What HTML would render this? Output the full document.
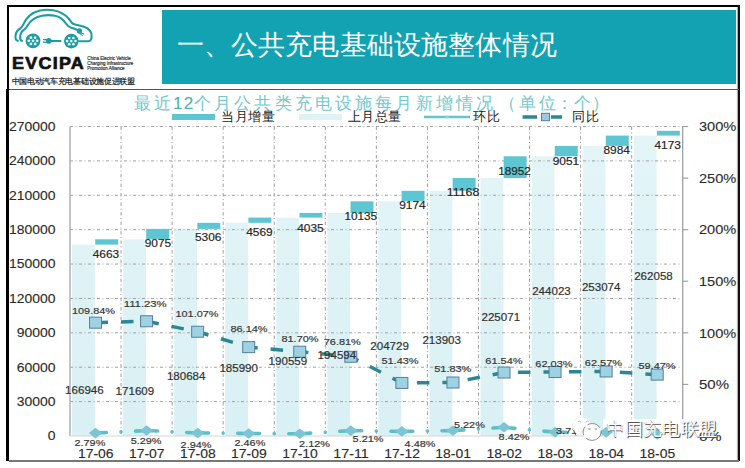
<!DOCTYPE html>
<html><head><meta charset="utf-8"><style>
html,body{margin:0;padding:0;width:745px;height:468px;overflow:hidden;background:#fff;}
body{position:relative;font-family:"Liberation Sans",sans-serif;}
svg text{font-family:"Liberation Sans",sans-serif;}
.abs{position:absolute;}
.ct{top:91.9px;font-size:17px;line-height:24px;color:#74c7cd;white-space:nowrap;}
</style></head><body>
<div class="abs" style="left:7px;top:5px;width:733px;height:2px;background:#000"></div>
<div class="abs" style="left:7px;top:5px;width:2px;height:84px;background:#000"></div>
<div class="abs" style="left:5.5px;top:89px;width:3.5px;height:372px;background:#000"></div>
<div class="abs" style="left:738px;top:5px;width:2px;height:456px;background:#111;box-shadow:-1px 0 1px rgba(0,0,0,0.35)"></div>
<div class="abs" style="left:9px;top:88.5px;width:730px;height:1.5px;background:#555"></div>
<div class="abs" style="left:9px;top:460px;width:730px;height:2px;background:#777"></div>
<div class="abs" style="left:162px;top:10px;width:574px;height:74px;background:#12a2b2"></div>
<div class="abs" style="left:176.5px;top:26.5px;font-size:27px;line-height:36px;color:#fff;white-space:nowrap;letter-spacing:0.18px">一、公共充电基础设施整体情况</div>
<svg width="745" height="468" viewBox="0 0 745 468" style="position:absolute;left:0;top:0">
<defs><linearGradient id="lg" x1="0" y1="0" x2="0" y2="1" gradientUnits="userSpaceOnUse" gradientTransform="scale(1,1)"></linearGradient>
<linearGradient id="bg" x1="0" y1="126.5" x2="0" y2="436.0" gradientUnits="userSpaceOnUse"><stop offset="0" stop-color="#e4f5f7"/><stop offset="1" stop-color="#d9f0f4"/></linearGradient></defs>
<rect x="72.00" y="244.63" width="22.9" height="191.37" fill="url(#bg)"/>
<rect x="123.06" y="239.29" width="22.9" height="196.71" fill="url(#bg)"/>
<rect x="174.12" y="228.88" width="22.9" height="207.12" fill="url(#bg)"/>
<rect x="225.18" y="222.80" width="22.9" height="213.20" fill="url(#bg)"/>
<rect x="276.24" y="217.56" width="22.9" height="218.44" fill="url(#bg)"/>
<rect x="327.30" y="212.94" width="22.9" height="223.06" fill="url(#bg)"/>
<rect x="378.36" y="201.32" width="22.9" height="234.68" fill="url(#bg)"/>
<rect x="429.42" y="190.80" width="22.9" height="245.20" fill="url(#bg)"/>
<rect x="480.48" y="178.00" width="22.9" height="258.00" fill="url(#bg)"/>
<rect x="531.54" y="156.28" width="22.9" height="279.72" fill="url(#bg)"/>
<rect x="582.60" y="145.90" width="22.9" height="290.10" fill="url(#bg)"/>
<rect x="633.66" y="135.60" width="22.9" height="300.40" fill="url(#bg)"/>
<line x1="70.0" y1="401.61" x2="682.7" y2="401.61" stroke="#a0a0a0" stroke-width="1" stroke-dasharray="3 2.5 1 2.5"/>
<line x1="70.0" y1="367.22" x2="682.7" y2="367.22" stroke="#a0a0a0" stroke-width="1" stroke-dasharray="3 2.5 1 2.5"/>
<line x1="70.0" y1="332.83" x2="682.7" y2="332.83" stroke="#a0a0a0" stroke-width="1" stroke-dasharray="3 2.5 1 2.5"/>
<line x1="70.0" y1="298.44" x2="682.7" y2="298.44" stroke="#a0a0a0" stroke-width="1" stroke-dasharray="3 2.5 1 2.5"/>
<line x1="70.0" y1="264.06" x2="682.7" y2="264.06" stroke="#a0a0a0" stroke-width="1" stroke-dasharray="3 2.5 1 2.5"/>
<line x1="70.0" y1="229.67" x2="682.7" y2="229.67" stroke="#a0a0a0" stroke-width="1" stroke-dasharray="3 2.5 1 2.5"/>
<line x1="70.0" y1="195.28" x2="682.7" y2="195.28" stroke="#a0a0a0" stroke-width="1" stroke-dasharray="3 2.5 1 2.5"/>
<line x1="70.0" y1="160.89" x2="682.7" y2="160.89" stroke="#a0a0a0" stroke-width="1" stroke-dasharray="3 2.5 1 2.5"/>
<line x1="70.0" y1="126.50" x2="682.7" y2="126.50" stroke="#a0a0a0" stroke-width="1" stroke-dasharray="3 2.5 1 2.5"/>
<line x1="121.06" y1="126.5" x2="121.06" y2="436.0" stroke="#a0a0a0" stroke-width="1" stroke-dasharray="3.5 2.5 1 2.5"/>
<line x1="172.12" y1="126.5" x2="172.12" y2="436.0" stroke="#a0a0a0" stroke-width="1" stroke-dasharray="3.5 2.5 1 2.5"/>
<line x1="223.18" y1="126.5" x2="223.18" y2="436.0" stroke="#a0a0a0" stroke-width="1" stroke-dasharray="3.5 2.5 1 2.5"/>
<line x1="274.24" y1="126.5" x2="274.24" y2="436.0" stroke="#a0a0a0" stroke-width="1" stroke-dasharray="3.5 2.5 1 2.5"/>
<line x1="325.30" y1="126.5" x2="325.30" y2="436.0" stroke="#a0a0a0" stroke-width="1" stroke-dasharray="3.5 2.5 1 2.5"/>
<line x1="376.36" y1="126.5" x2="376.36" y2="436.0" stroke="#a0a0a0" stroke-width="1" stroke-dasharray="3.5 2.5 1 2.5"/>
<line x1="427.42" y1="126.5" x2="427.42" y2="436.0" stroke="#a0a0a0" stroke-width="1" stroke-dasharray="3.5 2.5 1 2.5"/>
<line x1="478.48" y1="126.5" x2="478.48" y2="436.0" stroke="#a0a0a0" stroke-width="1" stroke-dasharray="3.5 2.5 1 2.5"/>
<line x1="529.54" y1="126.5" x2="529.54" y2="436.0" stroke="#a0a0a0" stroke-width="1" stroke-dasharray="3.5 2.5 1 2.5"/>
<line x1="580.60" y1="126.5" x2="580.60" y2="436.0" stroke="#a0a0a0" stroke-width="1" stroke-dasharray="3.5 2.5 1 2.5"/>
<line x1="631.66" y1="126.5" x2="631.66" y2="436.0" stroke="#a0a0a0" stroke-width="1" stroke-dasharray="3.5 2.5 1 2.5"/>
<line x1="70.0" y1="126.5" x2="70.0" y2="436.0" stroke="#b0b0b0" stroke-width="1.5"/>
<line x1="70.0" y1="436.0" x2="682.7" y2="436.0" stroke="#d4d4d4" stroke-width="1"/>
<line x1="682.7" y1="126.5" x2="682.7" y2="436.0" stroke="#a0a0a0" stroke-width="1.3"/>
<line x1="682.7" y1="436.00" x2="688.20" y2="436.00" stroke="#a0a0a0" stroke-width="1.2"/>
<line x1="682.7" y1="384.42" x2="688.20" y2="384.42" stroke="#a0a0a0" stroke-width="1.2"/>
<line x1="682.7" y1="332.83" x2="688.20" y2="332.83" stroke="#a0a0a0" stroke-width="1.2"/>
<line x1="682.7" y1="281.25" x2="688.20" y2="281.25" stroke="#a0a0a0" stroke-width="1.2"/>
<line x1="682.7" y1="229.67" x2="688.20" y2="229.67" stroke="#a0a0a0" stroke-width="1.2"/>
<line x1="682.7" y1="178.08" x2="688.20" y2="178.08" stroke="#a0a0a0" stroke-width="1.2"/>
<line x1="682.7" y1="126.50" x2="688.20" y2="126.50" stroke="#a0a0a0" stroke-width="1.2"/>
<rect x="95.20" y="239.29" width="23" height="5.35" fill="#5ec6d2"/>
<rect x="146.26" y="228.88" width="23" height="10.40" fill="#5ec6d2"/>
<rect x="197.32" y="222.80" width="23" height="6.08" fill="#5ec6d2"/>
<rect x="248.38" y="217.56" width="23" height="5.24" fill="#5ec6d2"/>
<rect x="299.44" y="212.94" width="23" height="4.63" fill="#5ec6d2"/>
<rect x="350.50" y="201.32" width="23" height="11.62" fill="#5ec6d2"/>
<rect x="401.56" y="190.80" width="23" height="10.52" fill="#5ec6d2"/>
<rect x="452.62" y="178.00" width="23" height="12.80" fill="#5ec6d2"/>
<rect x="503.68" y="156.28" width="23" height="21.72" fill="#5ec6d2"/>
<rect x="554.74" y="145.90" width="23" height="10.38" fill="#5ec6d2"/>
<rect x="605.80" y="135.60" width="23" height="10.30" fill="#5ec6d2"/>
<rect x="656.86" y="130.82" width="23" height="4.78" fill="#5ec6d2"/>
<line x1="95.53" y1="433.12" x2="146.59" y2="430.54" stroke="#5cc0c6" stroke-width="3.6" stroke-linecap="round" stroke-dasharray="10.9 14.6 0.01 14.6 11"/>
<line x1="146.59" y1="430.54" x2="197.65" y2="432.97" stroke="#5cc0c6" stroke-width="3.6" stroke-linecap="round" stroke-dasharray="10.9 14.6 0.01 14.6 11"/>
<line x1="197.65" y1="432.97" x2="248.71" y2="433.46" stroke="#5cc0c6" stroke-width="3.6" stroke-linecap="round" stroke-dasharray="10.9 14.6 0.01 14.6 11"/>
<line x1="248.71" y1="433.46" x2="299.77" y2="433.81" stroke="#5cc0c6" stroke-width="3.6" stroke-linecap="round" stroke-dasharray="10.9 14.6 0.01 14.6 11"/>
<line x1="299.77" y1="433.81" x2="350.83" y2="430.63" stroke="#5cc0c6" stroke-width="3.6" stroke-linecap="round" stroke-dasharray="10.9 14.6 0.01 14.6 11"/>
<line x1="350.83" y1="430.63" x2="401.89" y2="431.38" stroke="#5cc0c6" stroke-width="3.6" stroke-linecap="round" stroke-dasharray="10.9 14.6 0.01 14.6 11"/>
<line x1="401.89" y1="431.38" x2="452.95" y2="430.61" stroke="#5cc0c6" stroke-width="3.6" stroke-linecap="round" stroke-dasharray="10.9 14.6 0.01 14.6 11"/>
<line x1="452.95" y1="430.61" x2="504.01" y2="427.31" stroke="#5cc0c6" stroke-width="3.6" stroke-linecap="round" stroke-dasharray="10.9 14.6 0.01 14.6 11"/>
<line x1="504.01" y1="427.31" x2="555.07" y2="432.17" stroke="#5cc0c6" stroke-width="3.6" stroke-linecap="round" stroke-dasharray="10.9 14.6 0.01 14.6 11"/>
<line x1="555.07" y1="432.17" x2="606.13" y2="432.34" stroke="#5cc0c6" stroke-width="3.6" stroke-linecap="round" stroke-dasharray="10.9 14.6 0.01 14.6 11"/>
<line x1="606.13" y1="432.34" x2="657.19" y2="434.36" stroke="#5cc0c6" stroke-width="3.6" stroke-linecap="round" stroke-dasharray="10.9 14.6 0.01 14.6 11"/>
<rect x="603" y="419" width="118" height="22" fill="#fff" fill-opacity="0.92"/>
<path d="M88.93 433.12L95.53 427.82L102.13 433.12L95.53 438.42Z" fill="#7cc5d4"/>
<path d="M139.99 430.54L146.59 425.24L153.19 430.54L146.59 435.84Z" fill="#7cc5d4"/>
<path d="M191.05 432.97L197.65 427.67L204.25 432.97L197.65 438.27Z" fill="#7cc5d4"/>
<path d="M242.11 433.46L248.71 428.16L255.31 433.46L248.71 438.76Z" fill="#7cc5d4"/>
<path d="M293.17 433.81L299.77 428.51L306.37 433.81L299.77 439.11Z" fill="#7cc5d4"/>
<path d="M344.23 430.63L350.83 425.33L357.43 430.63L350.83 435.93Z" fill="#7cc5d4"/>
<path d="M395.29 431.38L401.89 426.08L408.49 431.38L401.89 436.68Z" fill="#7cc5d4"/>
<path d="M446.35 430.61L452.95 425.31L459.55 430.61L452.95 435.91Z" fill="#7cc5d4"/>
<path d="M497.41 427.31L504.01 422.01L510.61 427.31L504.01 432.61Z" fill="#7cc5d4"/>
<path d="M548.47 432.17L555.07 426.87L561.67 432.17L555.07 437.47Z" fill="#7cc5d4"/>
<path d="M599.53 432.34L606.13 427.04L612.73 432.34L606.13 437.64Z" fill="#7cc5d4"/>
<path d="M650.59 434.36L657.19 429.06L663.79 434.36L657.19 439.66Z" fill="#7cc5d4"/>
<polyline points="95.53,322.68 146.59,321.25 197.65,331.73 248.71,347.13 299.77,351.71 350.83,356.76 401.89,382.94 452.95,382.53 504.01,372.51 555.07,372.01 606.13,371.45 657.19,374.65" fill="none" stroke="#2a8796" stroke-width="3.5" stroke-dasharray="12.5 13"/>
<rect x="89.53" y="317.18" width="12" height="11" fill="#9dd2e2" stroke="#5a7d9c" stroke-width="1"/>
<rect x="140.59" y="315.75" width="12" height="11" fill="#9dd2e2" stroke="#5a7d9c" stroke-width="1"/>
<rect x="191.65" y="326.23" width="12" height="11" fill="#9dd2e2" stroke="#5a7d9c" stroke-width="1"/>
<rect x="242.71" y="341.63" width="12" height="11" fill="#9dd2e2" stroke="#5a7d9c" stroke-width="1"/>
<rect x="293.77" y="346.21" width="12" height="11" fill="#9dd2e2" stroke="#5a7d9c" stroke-width="1"/>
<rect x="344.83" y="351.26" width="12" height="11" fill="#9dd2e2" stroke="#5a7d9c" stroke-width="1"/>
<rect x="395.89" y="377.44" width="12" height="11" fill="#9dd2e2" stroke="#5a7d9c" stroke-width="1"/>
<rect x="446.95" y="377.03" width="12" height="11" fill="#9dd2e2" stroke="#5a7d9c" stroke-width="1"/>
<rect x="498.01" y="367.01" width="12" height="11" fill="#9dd2e2" stroke="#5a7d9c" stroke-width="1"/>
<rect x="549.07" y="366.51" width="12" height="11" fill="#9dd2e2" stroke="#5a7d9c" stroke-width="1"/>
<rect x="600.13" y="365.95" width="12" height="11" fill="#9dd2e2" stroke="#5a7d9c" stroke-width="1"/>
<rect x="651.19" y="369.15" width="12" height="11" fill="#9dd2e2" stroke="#5a7d9c" stroke-width="1"/>
<text x="84.40" y="389.80" font-size="11" fill="#303030" text-anchor="middle" dominant-baseline="central" textLength="38.60" lengthAdjust="spacingAndGlyphs" stroke="#333" stroke-width="0.18">166946</text>
<text x="106.00" y="254.10" font-size="11" fill="#222" text-anchor="middle" dominant-baseline="central" textLength="26.50" lengthAdjust="spacingAndGlyphs" stroke="#333" stroke-width="0.18">4663</text>
<text x="93.50" y="310.50" font-size="9.5" fill="#383838" text-anchor="middle" dominant-baseline="central" textLength="43.00" lengthAdjust="spacingAndGlyphs" stroke="#333" stroke-width="0.18">109.84%</text>
<text x="89.90" y="442.80" font-size="9" fill="#383838" text-anchor="middle" dominant-baseline="central" textLength="30.80" lengthAdjust="spacingAndGlyphs" stroke="#333" stroke-width="0.18">2.79%</text>
<text x="95.73" y="453.00" font-size="13.5" fill="#2a2a2a" text-anchor="middle" dominant-baseline="central" textLength="35.60" lengthAdjust="spacingAndGlyphs" stroke="#2a2a2a" stroke-width="0.12">17-06</text>
<text x="134.90" y="391.40" font-size="11" fill="#303030" text-anchor="middle" dominant-baseline="central" textLength="38.60" lengthAdjust="spacingAndGlyphs" stroke="#333" stroke-width="0.18">171609</text>
<text x="157.90" y="243.40" font-size="11" fill="#222" text-anchor="middle" dominant-baseline="central" textLength="26.50" lengthAdjust="spacingAndGlyphs" stroke="#333" stroke-width="0.18">9075</text>
<text x="145.20" y="303.30" font-size="9.5" fill="#383838" text-anchor="middle" dominant-baseline="central" textLength="43.00" lengthAdjust="spacingAndGlyphs" stroke="#333" stroke-width="0.18">111.23%</text>
<text x="146.10" y="441.00" font-size="9" fill="#383838" text-anchor="middle" dominant-baseline="central" textLength="30.80" lengthAdjust="spacingAndGlyphs" stroke="#333" stroke-width="0.18">5.29%</text>
<text x="146.79" y="453.00" font-size="13.5" fill="#2a2a2a" text-anchor="middle" dominant-baseline="central" textLength="35.60" lengthAdjust="spacingAndGlyphs" stroke="#2a2a2a" stroke-width="0.12">17-07</text>
<text x="186.20" y="375.70" font-size="11" fill="#303030" text-anchor="middle" dominant-baseline="central" textLength="38.60" lengthAdjust="spacingAndGlyphs" stroke="#333" stroke-width="0.18">180684</text>
<text x="208.20" y="237.20" font-size="11" fill="#222" text-anchor="middle" dominant-baseline="central" textLength="26.50" lengthAdjust="spacingAndGlyphs" stroke="#333" stroke-width="0.18">5306</text>
<text x="197.00" y="313.70" font-size="9.5" fill="#383838" text-anchor="middle" dominant-baseline="central" textLength="43.00" lengthAdjust="spacingAndGlyphs" stroke="#333" stroke-width="0.18">101.07%</text>
<text x="196.00" y="445.40" font-size="9" fill="#383838" text-anchor="middle" dominant-baseline="central" textLength="30.80" lengthAdjust="spacingAndGlyphs" stroke="#333" stroke-width="0.18">2.94%</text>
<text x="197.85" y="453.00" font-size="13.5" fill="#2a2a2a" text-anchor="middle" dominant-baseline="central" textLength="35.60" lengthAdjust="spacingAndGlyphs" stroke="#2a2a2a" stroke-width="0.12">17-08</text>
<text x="238.70" y="367.80" font-size="11" fill="#303030" text-anchor="middle" dominant-baseline="central" textLength="38.60" lengthAdjust="spacingAndGlyphs" stroke="#333" stroke-width="0.18">185990</text>
<text x="259.40" y="232.00" font-size="11" fill="#222" text-anchor="middle" dominant-baseline="central" textLength="26.50" lengthAdjust="spacingAndGlyphs" stroke="#333" stroke-width="0.18">4569</text>
<text x="249.00" y="328.60" font-size="9.5" fill="#383838" text-anchor="middle" dominant-baseline="central" textLength="37.20" lengthAdjust="spacingAndGlyphs" stroke="#333" stroke-width="0.18">86.14%</text>
<text x="249.90" y="442.80" font-size="9" fill="#383838" text-anchor="middle" dominant-baseline="central" textLength="30.80" lengthAdjust="spacingAndGlyphs" stroke="#333" stroke-width="0.18">2.46%</text>
<text x="248.91" y="453.00" font-size="13.5" fill="#2a2a2a" text-anchor="middle" dominant-baseline="central" textLength="35.60" lengthAdjust="spacingAndGlyphs" stroke="#2a2a2a" stroke-width="0.12">17-09</text>
<text x="287.90" y="360.80" font-size="11" fill="#303030" text-anchor="middle" dominant-baseline="central" textLength="38.60" lengthAdjust="spacingAndGlyphs" stroke="#333" stroke-width="0.18">190559</text>
<text x="310.50" y="227.60" font-size="11" fill="#222" text-anchor="middle" dominant-baseline="central" textLength="26.50" lengthAdjust="spacingAndGlyphs" stroke="#333" stroke-width="0.18">4035</text>
<text x="300.00" y="338.30" font-size="9.5" fill="#383838" text-anchor="middle" dominant-baseline="central" textLength="37.20" lengthAdjust="spacingAndGlyphs" stroke="#333" stroke-width="0.18">81.70%</text>
<text x="314.50" y="443.50" font-size="9" fill="#383838" text-anchor="middle" dominant-baseline="central" textLength="30.80" lengthAdjust="spacingAndGlyphs" stroke="#333" stroke-width="0.18">2.12%</text>
<text x="299.97" y="453.00" font-size="13.5" fill="#2a2a2a" text-anchor="middle" dominant-baseline="central" textLength="35.60" lengthAdjust="spacingAndGlyphs" stroke="#2a2a2a" stroke-width="0.12">17-10</text>
<text x="336.90" y="354.70" font-size="11" fill="#303030" text-anchor="middle" dominant-baseline="central" textLength="38.60" lengthAdjust="spacingAndGlyphs" stroke="#333" stroke-width="0.18">194594</text>
<text x="360.80" y="215.70" font-size="11" fill="#222" text-anchor="middle" dominant-baseline="central" textLength="32.60" lengthAdjust="spacingAndGlyphs" stroke="#333" stroke-width="0.18">10135</text>
<text x="342.30" y="341.20" font-size="9.5" fill="#383838" text-anchor="middle" dominant-baseline="central" textLength="37.20" lengthAdjust="spacingAndGlyphs" stroke="#333" stroke-width="0.18">76.81%</text>
<text x="368.00" y="438.60" font-size="9" fill="#383838" text-anchor="middle" dominant-baseline="central" textLength="30.80" lengthAdjust="spacingAndGlyphs" stroke="#333" stroke-width="0.18">5.21%</text>
<text x="351.03" y="453.00" font-size="13.5" fill="#2a2a2a" text-anchor="middle" dominant-baseline="central" textLength="35.60" lengthAdjust="spacingAndGlyphs" stroke="#2a2a2a" stroke-width="0.12">17-11</text>
<text x="389.60" y="346.00" font-size="11" fill="#303030" text-anchor="middle" dominant-baseline="central" textLength="38.60" lengthAdjust="spacingAndGlyphs" stroke="#333" stroke-width="0.18">204729</text>
<text x="412.50" y="205.20" font-size="11" fill="#222" text-anchor="middle" dominant-baseline="central" textLength="26.50" lengthAdjust="spacingAndGlyphs" stroke="#333" stroke-width="0.18">9174</text>
<text x="400.00" y="360.00" font-size="9.5" fill="#383838" text-anchor="middle" dominant-baseline="central" textLength="37.20" lengthAdjust="spacingAndGlyphs" stroke="#333" stroke-width="0.18">51.43%</text>
<text x="420.00" y="443.50" font-size="9" fill="#383838" text-anchor="middle" dominant-baseline="central" textLength="30.80" lengthAdjust="spacingAndGlyphs" stroke="#333" stroke-width="0.18">4.48%</text>
<text x="402.09" y="453.00" font-size="13.5" fill="#2a2a2a" text-anchor="middle" dominant-baseline="central" textLength="35.60" lengthAdjust="spacingAndGlyphs" stroke="#2a2a2a" stroke-width="0.12">17-12</text>
<text x="441.70" y="339.50" font-size="11" fill="#303030" text-anchor="middle" dominant-baseline="central" textLength="38.60" lengthAdjust="spacingAndGlyphs" stroke="#333" stroke-width="0.18">213903</text>
<text x="463.10" y="192.30" font-size="11" fill="#222" text-anchor="middle" dominant-baseline="central" textLength="32.60" lengthAdjust="spacingAndGlyphs" stroke="#333" stroke-width="0.18">11168</text>
<text x="452.80" y="368.50" font-size="9.5" fill="#383838" text-anchor="middle" dominant-baseline="central" textLength="37.20" lengthAdjust="spacingAndGlyphs" stroke="#333" stroke-width="0.18">51.83%</text>
<text x="469.40" y="424.60" font-size="9" fill="#383838" text-anchor="middle" dominant-baseline="central" textLength="30.80" lengthAdjust="spacingAndGlyphs" stroke="#333" stroke-width="0.18">5.22%</text>
<text x="453.15" y="453.00" font-size="13.5" fill="#2a2a2a" text-anchor="middle" dominant-baseline="central" textLength="35.60" lengthAdjust="spacingAndGlyphs" stroke="#2a2a2a" stroke-width="0.12">18-01</text>
<text x="500.80" y="316.60" font-size="11" fill="#303030" text-anchor="middle" dominant-baseline="central" textLength="38.60" lengthAdjust="spacingAndGlyphs" stroke="#333" stroke-width="0.18">225071</text>
<text x="514.50" y="170.60" font-size="11" fill="#222" text-anchor="middle" dominant-baseline="central" textLength="32.60" lengthAdjust="spacingAndGlyphs" stroke="#333" stroke-width="0.18">18952</text>
<text x="503.90" y="360.80" font-size="9.5" fill="#383838" text-anchor="middle" dominant-baseline="central" textLength="37.20" lengthAdjust="spacingAndGlyphs" stroke="#333" stroke-width="0.18">61.54%</text>
<text x="514.00" y="436.70" font-size="9" fill="#383838" text-anchor="middle" dominant-baseline="central" textLength="30.80" lengthAdjust="spacingAndGlyphs" stroke="#333" stroke-width="0.18">8.42%</text>
<text x="504.21" y="453.00" font-size="13.5" fill="#2a2a2a" text-anchor="middle" dominant-baseline="central" textLength="35.60" lengthAdjust="spacingAndGlyphs" stroke="#2a2a2a" stroke-width="0.12">18-02</text>
<text x="551.50" y="290.50" font-size="11" fill="#303030" text-anchor="middle" dominant-baseline="central" textLength="38.60" lengthAdjust="spacingAndGlyphs" stroke="#333" stroke-width="0.18">244023</text>
<text x="566.00" y="160.70" font-size="11" fill="#222" text-anchor="middle" dominant-baseline="central" textLength="26.50" lengthAdjust="spacingAndGlyphs" stroke="#333" stroke-width="0.18">9051</text>
<text x="553.90" y="363.70" font-size="9.5" fill="#383838" text-anchor="middle" dominant-baseline="central" textLength="37.20" lengthAdjust="spacingAndGlyphs" stroke="#333" stroke-width="0.18">62.03%</text>
<text x="571.50" y="431.40" font-size="9" fill="#383838" text-anchor="middle" dominant-baseline="central" textLength="30.80" lengthAdjust="spacingAndGlyphs" stroke="#333" stroke-width="0.18">3.71%</text>
<text x="555.27" y="453.00" font-size="13.5" fill="#2a2a2a" text-anchor="middle" dominant-baseline="central" textLength="35.60" lengthAdjust="spacingAndGlyphs" stroke="#2a2a2a" stroke-width="0.12">18-03</text>
<text x="601.20" y="286.90" font-size="11" fill="#303030" text-anchor="middle" dominant-baseline="central" textLength="38.60" lengthAdjust="spacingAndGlyphs" stroke="#333" stroke-width="0.18">253074</text>
<text x="616.70" y="150.20" font-size="11" fill="#222" text-anchor="middle" dominant-baseline="central" textLength="26.50" lengthAdjust="spacingAndGlyphs" stroke="#333" stroke-width="0.18">8984</text>
<text x="603.40" y="362.30" font-size="9.5" fill="#383838" text-anchor="middle" dominant-baseline="central" textLength="37.20" lengthAdjust="spacingAndGlyphs" stroke="#333" stroke-width="0.18">62.57%</text>
<text x="606.33" y="453.00" font-size="13.5" fill="#2a2a2a" text-anchor="middle" dominant-baseline="central" textLength="35.60" lengthAdjust="spacingAndGlyphs" stroke="#2a2a2a" stroke-width="0.12">18-04</text>
<text x="653.50" y="275.50" font-size="11" fill="#303030" text-anchor="middle" dominant-baseline="central" textLength="38.60" lengthAdjust="spacingAndGlyphs" stroke="#333" stroke-width="0.18">262058</text>
<text x="667.70" y="144.90" font-size="11" fill="#222" text-anchor="middle" dominant-baseline="central" textLength="26.50" lengthAdjust="spacingAndGlyphs" stroke="#333" stroke-width="0.18">4173</text>
<text x="657.00" y="365.60" font-size="9.5" fill="#383838" text-anchor="middle" dominant-baseline="central" textLength="37.20" lengthAdjust="spacingAndGlyphs" stroke="#333" stroke-width="0.18">59.47%</text>
<text x="657.39" y="453.00" font-size="13.5" fill="#2a2a2a" text-anchor="middle" dominant-baseline="central" textLength="35.60" lengthAdjust="spacingAndGlyphs" stroke="#2a2a2a" stroke-width="0.12">18-05</text>
<text x="55.50" y="436.30" font-size="12.5" fill="#2a2a2a" text-anchor="end" dominant-baseline="central" textLength="7.75" lengthAdjust="spacingAndGlyphs" stroke="#2a2a2a" stroke-width="0.1">0</text>
<text x="55.50" y="401.91" font-size="12.5" fill="#2a2a2a" text-anchor="end" dominant-baseline="central" textLength="38.75" lengthAdjust="spacingAndGlyphs" stroke="#2a2a2a" stroke-width="0.1">30000</text>
<text x="55.50" y="367.52" font-size="12.5" fill="#2a2a2a" text-anchor="end" dominant-baseline="central" textLength="38.75" lengthAdjust="spacingAndGlyphs" stroke="#2a2a2a" stroke-width="0.1">60000</text>
<text x="55.50" y="333.13" font-size="12.5" fill="#2a2a2a" text-anchor="end" dominant-baseline="central" textLength="38.75" lengthAdjust="spacingAndGlyphs" stroke="#2a2a2a" stroke-width="0.1">90000</text>
<text x="55.50" y="298.74" font-size="12.5" fill="#2a2a2a" text-anchor="end" dominant-baseline="central" textLength="46.50" lengthAdjust="spacingAndGlyphs" stroke="#2a2a2a" stroke-width="0.1">120000</text>
<text x="55.50" y="264.36" font-size="12.5" fill="#2a2a2a" text-anchor="end" dominant-baseline="central" textLength="46.50" lengthAdjust="spacingAndGlyphs" stroke="#2a2a2a" stroke-width="0.1">150000</text>
<text x="55.50" y="229.97" font-size="12.5" fill="#2a2a2a" text-anchor="end" dominant-baseline="central" textLength="46.50" lengthAdjust="spacingAndGlyphs" stroke="#2a2a2a" stroke-width="0.1">180000</text>
<text x="55.50" y="195.58" font-size="12.5" fill="#2a2a2a" text-anchor="end" dominant-baseline="central" textLength="46.50" lengthAdjust="spacingAndGlyphs" stroke="#2a2a2a" stroke-width="0.1">210000</text>
<text x="55.50" y="161.19" font-size="12.5" fill="#2a2a2a" text-anchor="end" dominant-baseline="central" textLength="46.50" lengthAdjust="spacingAndGlyphs" stroke="#2a2a2a" stroke-width="0.1">240000</text>
<text x="55.50" y="126.80" font-size="12.5" fill="#2a2a2a" text-anchor="end" dominant-baseline="central" textLength="46.50" lengthAdjust="spacingAndGlyphs" stroke="#2a2a2a" stroke-width="0.1">270000</text>
<text x="699.00" y="436.30" font-size="13" fill="#2a2a2a" text-anchor="start" dominant-baseline="central" textLength="22.50" lengthAdjust="spacingAndGlyphs" stroke="#2a2a2a" stroke-width="0.1">0%</text>
<text x="699.00" y="384.72" font-size="13" fill="#2a2a2a" text-anchor="start" dominant-baseline="central" textLength="30.00" lengthAdjust="spacingAndGlyphs" stroke="#2a2a2a" stroke-width="0.1">50%</text>
<text x="699.00" y="333.13" font-size="13" fill="#2a2a2a" text-anchor="start" dominant-baseline="central" textLength="37.30" lengthAdjust="spacingAndGlyphs" stroke="#2a2a2a" stroke-width="0.1">100%</text>
<text x="699.00" y="281.55" font-size="13" fill="#2a2a2a" text-anchor="start" dominant-baseline="central" textLength="37.30" lengthAdjust="spacingAndGlyphs" stroke="#2a2a2a" stroke-width="0.1">150%</text>
<text x="699.00" y="229.97" font-size="13" fill="#2a2a2a" text-anchor="start" dominant-baseline="central" textLength="37.30" lengthAdjust="spacingAndGlyphs" stroke="#2a2a2a" stroke-width="0.1">200%</text>
<text x="699.00" y="178.38" font-size="13" fill="#2a2a2a" text-anchor="start" dominant-baseline="central" textLength="37.30" lengthAdjust="spacingAndGlyphs" stroke="#2a2a2a" stroke-width="0.1">250%</text>
<text x="699.00" y="126.80" font-size="13" fill="#2a2a2a" text-anchor="start" dominant-baseline="central" textLength="37.30" lengthAdjust="spacingAndGlyphs" stroke="#2a2a2a" stroke-width="0.1">300%</text>
</svg>

<svg class="abs" style="left:0;top:0" width="160" height="90" viewBox="0 0 160 90">
<g fill="none" stroke="#1c9ca4" stroke-width="2.1" stroke-linecap="round" stroke-linejoin="round">
<path d="M17.8 40.8 C16.2 40.6 15.3 38.5 15.5 35.8 C15.8 32.5 17.5 29.8 20.5 28.2 C22 27.2 22.8 25.8 23.5 24.2 C26 18.5 31 12.8 40 10.6 C44 9.7 49 9.6 53 10.2 C60 11.3 65.5 14.6 69 19 C70.5 21 71.5 23 73.5 24 C76 25 80 25.5 84 26.8 C89 28.6 91.8 32.5 91.6 36.5 C91.5 39.3 90.5 41 88.5 41.2 L79 41.2"/>
<path d="M22 40.8 C20.8 40.6 20 38.8 20.2 36.5 C20.4 33.5 21.6 31 24.5 29.3 C26 28.3 26.8 27 27.8 25.3 C30.5 20.5 35 17 42 15.7 C46 15 51 15 55 15.8 C60 16.8 63 19.4 65.5 23 C66.8 24.8 68 26.4 70.5 27.4 C73 28.4 75.5 29.2 77.5 30"/>
<line x1="52" y1="41" x2="60.5" y2="41"/>
</g>
<g fill="#1c9ca4">
<circle cx="33" cy="40.8" r="7.4"/>
<circle cx="71.3" cy="41.1" r="7.3"/>
<circle cx="48.8" cy="40.9" r="2.8"/>
<rect x="43" y="39" width="4" height="1.3"/>
<rect x="43" y="41.6" width="4" height="1.3"/>
<rect x="46.5" y="40.2" width="6" height="1.5"/>
<circle cx="79.4" cy="30.9" r="2.6"/>
<path d="M80.5 32.2 L84.3 33.6 L84 34.5 L80 33.2Z"/>
<path d="M79.8 33 L83.2 35.4 L82.6 36.1 L79 33.8Z"/>
</g>
<g fill="#e8f7f8"><circle cx="30.9" cy="37.7" r="1.35"/><circle cx="35.1" cy="37.7" r="1.35"/><circle cx="28.8" cy="40.8" r="1.35"/><circle cx="33.0" cy="40.8" r="1.35"/><circle cx="37.2" cy="40.8" r="1.35"/><circle cx="30.9" cy="43.9" r="1.35"/><circle cx="35.1" cy="43.9" r="1.35"/><circle cx="69.2" cy="38.0" r="1.35"/><circle cx="73.4" cy="38.0" r="1.35"/><circle cx="67.1" cy="41.1" r="1.35"/><circle cx="71.3" cy="41.1" r="1.35"/><circle cx="75.5" cy="41.1" r="1.35"/><circle cx="69.2" cy="44.2" r="1.35"/><circle cx="73.4" cy="44.2" r="1.35"/></g>
</svg>
<div class="abs" style="left:12.4px;top:51.6px;font-size:17px;line-height:24px;font-weight:bold;color:#111;letter-spacing:1.2px;-webkit-text-stroke:0.7px #111;transform:scaleX(1.055);transform-origin:0 0;white-space:nowrap">EVCIPA</div>
<div class="abs" style="left:87.3px;top:55.5px;font-size:4.5px;line-height:5.3px;font-weight:normal;color:#222;-webkit-text-stroke:0.15px #222;white-space:nowrap">China Electric Vehicle<br>Charging Infrastructure<br>Promotion Alliance</div>
<div class="abs" style="left:11.5px;top:77px;font-size:7.5px;line-height:10px;font-weight:bold;color:#333;white-space:nowrap;letter-spacing:-0.3px">中国电动汽车充电基础设施促进联盟</div>
<div class="abs ct" style="left:134px;letter-spacing:3.05px">最近</div>
<div class="abs ct" style="left:173px;color:#4bb2b6;letter-spacing:1.2px;-webkit-text-stroke:0.1px #4bb2b6">12</div>
<div class="abs ct" style="left:194px;letter-spacing:3.15px">个月公共类充电设施每月新增情况</div>
<div class="abs ct" style="left:499px;letter-spacing:3.15px">（单位</div>
<div class="abs ct" style="left:556px;letter-spacing:1px">：个）</div>
<div class="abs" style="left:172.4px;top:114.2px;width:43px;height:6px;background:#5ec6d2"></div>
<div class="abs" style="left:221px;top:108px;font-size:13px;line-height:18px;color:#1a1a1a;font-weight:500;letter-spacing:0.5px;white-space:nowrap">当月增量</div>
<div class="abs" style="left:299px;top:113.5px;width:43px;height:6.5px;background:#dff2f4"></div>
<div class="abs" style="left:347.5px;top:108px;font-size:13px;line-height:18px;color:#1a1a1a;font-weight:500;letter-spacing:0.5px;white-space:nowrap">上月总量</div>
<svg class="abs" style="left:0;top:0" width="745" height="130">
<line x1="424" y1="117" x2="470" y2="117" stroke="#66c4cc" stroke-width="2.6"/><path d="M444.5 117 L447 115.5 L449.5 117 L447 118.5Z" fill="#8fd0da"/>
<line x1="522.6" y1="117" x2="537" y2="117" stroke="#2a8796" stroke-width="3.5"/>
<line x1="551" y1="117" x2="562" y2="117" stroke="#2a8796" stroke-width="3.5"/>
<rect x="541.5" y="113.3" width="8" height="7.4" fill="#9dc8e2" stroke="#5a7d9c" stroke-width="1"/>
</svg>
<div class="abs" style="left:473px;top:108px;font-size:13px;line-height:18px;color:#1a1a1a;font-weight:500;letter-spacing:0.5px;white-space:nowrap">环比</div>
<div class="abs" style="left:572px;top:108px;font-size:13px;line-height:18px;color:#1a1a1a;font-weight:500;letter-spacing:0.5px;white-space:nowrap">同比</div>

<svg class="abs" style="left:0;top:0" width="745" height="468">
<ellipse cx="582" cy="426.2" rx="9.6" ry="9.2" fill="#fff" fill-opacity="0.92" stroke="#e4e4e4" stroke-width="0.6"/>
<path d="M577.7 422 l1.5 -1 l1.5 1 M585.8 422 l1.5 -1 l1.5 1" fill="none" stroke="#aaa" stroke-width="0.8"/>
<ellipse cx="592.1" cy="432" rx="9" ry="8.4" fill="#fff" fill-opacity="0.95" stroke="#444" stroke-width="0.6" stroke-dasharray="20 4 9 3 14 3"/>
<path d="M588.2 429 h2.5 M594.6 429 h2.5" fill="none" stroke="#666" stroke-width="0.8"/>
<path d="M573.5 430 L576 435.5" stroke="#444" stroke-width="0.8"/>
</svg>
<div class="abs" style="left:606.5px;top:416.5px;font-size:18px;line-height:24px;color:#fff;white-space:nowrap;letter-spacing:0.6px;text-shadow:0.7px 0.7px 0 #555,-0.3px -0.3px 0 #ccc">中国充电联盟</div>

</body></html>
